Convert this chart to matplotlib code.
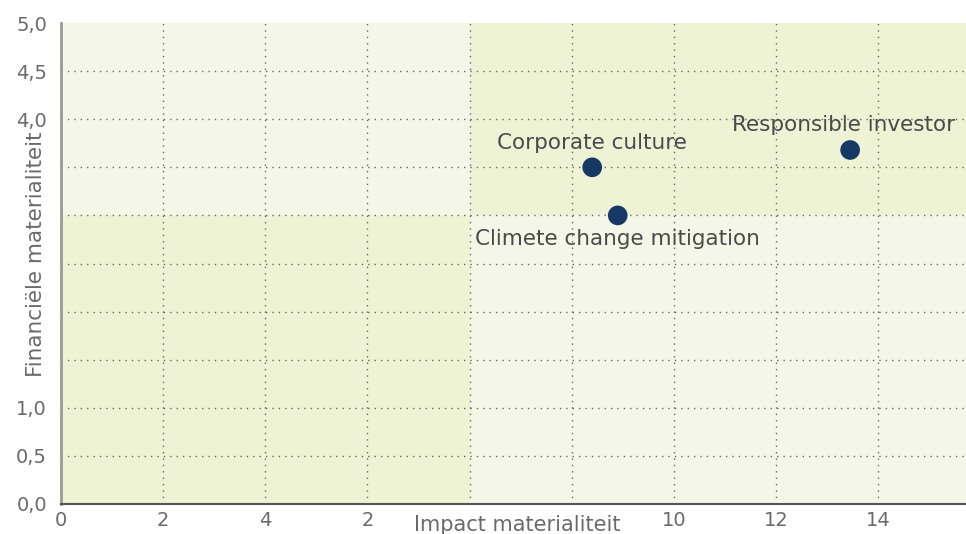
import matplotlib
matplotlib.use("Agg")
import matplotlib.pyplot as plt
from matplotlib.patches import Rectangle

# data
topics = ["Corporate culture", "Climete change mitigation", "Responsible investor"]
impact = [10.4, 10.9, 15.45]
financial = [3.5, 3.0, 3.68]

x_ticks = [0, 2, 4, 6, 8, 10, 12, 14, 16]
x_tick_labels = ["0", "2", "4", "2", "", "", "10", "12", "14"]
y_ticks = [0.0, 0.5, 1.0, 1.5, 2.0, 2.5, 3.0, 3.5, 4.0, 4.5, 5.0]
y_tick_labels = ["0,0", "0,5", "1,0", "", "", "", "", "", "4,0", "4,5", "5,0"]

light = "#f4f7e7"
dark = "#eef3d5"
navy = "#153964"

fig = plt.figure(figsize=(9.66, 5.34), dpi=100)
ax = fig.add_axes([0.0631, 0.0562, 0.937, 0.9007])
ax.set_xlim(0, 17.72)
ax.set_ylim(0, 5.0)
ax.set_facecolor(light)

# quadrant shading
ax.add_patch(Rectangle((0, 0), 8, 3, color=dark, zorder=0, lw=0))
ax.add_patch(Rectangle((8, 3), 17.72 - 8, 2, color=dark, zorder=0, lw=0))

ax.set_xticks(x_ticks)
ax.set_xticklabels(x_tick_labels)
ax.set_yticks(y_ticks)
ax.set_yticklabels(y_tick_labels)
ax.tick_params(length=0, colors="#6a6a6a", labelsize=14)
ax.tick_params(axis="x", pad=5)
ax.tick_params(axis="y", pad=10)

ax.grid(True, color="#666666", linestyle=(0, (1, 3.6)), linewidth=1, zorder=1)
ax.set_axisbelow(True)
ax.yaxis.get_gridlines()[-1].set_visible(False)

for s in ["top", "right"]:
    ax.spines[s].set_visible(False)
ax.spines["left"].set_color("#9a9a9a")
ax.spines["left"].set_linewidth(2)
ax.spines["bottom"].set_color("#555555")
ax.spines["bottom"].set_linewidth(1.5)

ax.set_xlabel("Impact materialiteit", fontsize=15, color="#6a6a6a", va="center")
ax.xaxis.set_label_coords(0.504, -0.043)
ax.set_ylabel("Financiële materialiteit", fontsize=15.5, color="#6a6a6a", va="center")
ax.yaxis.set_label_coords(-0.0276, 0.52)

ax.scatter(impact, financial, s=200, color=navy, zorder=5, edgecolors="none")

label_offsets = [(0, 24), (0, -24), (-7, 25)]
for name, x, y, off in zip(topics, impact, financial, label_offsets):
    ax.annotate(name, (x, y), xytext=off, textcoords="offset pixels",
                ha="center", va="center", fontsize=15.5, color="#4a4a4a", zorder=6)

plt.savefig("out.png", dpi=100)
plt.close()
